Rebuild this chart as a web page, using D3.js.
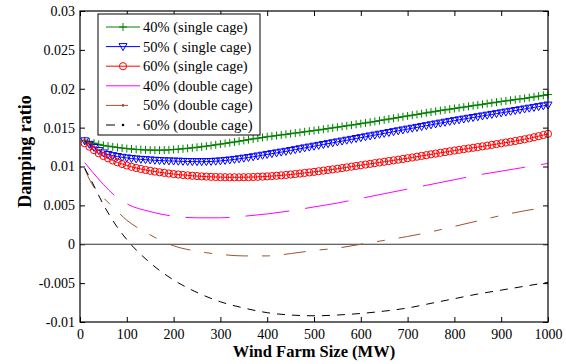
<!DOCTYPE html>
<html>
<head>
<meta charset="utf-8">
<script src="https://cdn.jsdelivr.net/npm/d3@7"></script>
<style>
  body { margin: 0; background: #fff; }
  text { font-family: "Liberation Serif", "Times New Roman", serif; }
</style>
</head>
<body>
<div id="chart"></div>
<script>
// data
const mwSingle = d3.range(10, 1001, 10);   // single cage runs sampled every 10 MW
const mwDouble = [10, 25, 50, 75, 100, 150, 200, 250, 300, 350, 400, 450, 500, 550, 600, 650, 700, 750, 800, 850, 900, 950, 1000];

const single40 = [
  0.01330, 0.01315, 0.01300, 0.01285, 0.01272, 0.01262, 0.01253, 0.01245, 0.01237, 0.01230,
  0.01225, 0.01220, 0.01216, 0.01213, 0.01211, 0.01210, 0.01210, 0.01211, 0.01214, 0.01218,
  0.01223, 0.01228, 0.01234, 0.01240, 0.01247, 0.01254, 0.01262, 0.01270, 0.01279, 0.01288,
  0.01297, 0.01306, 0.01315, 0.01325, 0.01335, 0.01345, 0.01355, 0.01364, 0.01373, 0.01382,
  0.01390, 0.01398, 0.01406, 0.01414, 0.01422, 0.01430, 0.01438, 0.01446, 0.01454, 0.01462,
  0.01470, 0.01479, 0.01488, 0.01497, 0.01506, 0.01515, 0.01524, 0.01533, 0.01542, 0.01551,
  0.01560, 0.01570, 0.01580, 0.01590, 0.01600, 0.01610, 0.01620, 0.01630, 0.01640, 0.01650,
  0.01660, 0.01670, 0.01680, 0.01690, 0.01700, 0.01710, 0.01719, 0.01728, 0.01737, 0.01746,
  0.01755, 0.01764, 0.01773, 0.01782, 0.01791, 0.01800, 0.01809, 0.01818, 0.01827, 0.01836,
  0.01844, 0.01852, 0.01860, 0.01868, 0.01876, 0.01885, 0.01895, 0.01905, 0.01915, 0.01925
];

const single50 = [
  0.01330, 0.01285, 0.01245, 0.01205, 0.01175, 0.01155, 0.01140, 0.01128, 0.01118, 0.01110,
  0.01103, 0.01097, 0.01092, 0.01088, 0.01084, 0.01080, 0.01077, 0.01074, 0.01072, 0.01070,
  0.01068, 0.01066, 0.01064, 0.01063, 0.01062, 0.01062, 0.01063, 0.01065, 0.01068, 0.01072,
  0.01078, 0.01084, 0.01091, 0.01099, 0.01107, 0.01116, 0.01125, 0.01135, 0.01145, 0.01155,
  0.01165, 0.01175, 0.01185, 0.01195, 0.01206, 0.01217, 0.01228, 0.01239, 0.01250, 0.01261,
  0.01272, 0.01283, 0.01294, 0.01305, 0.01316, 0.01327, 0.01338, 0.01349, 0.01360, 0.01371,
  0.01382, 0.01393, 0.01404, 0.01415, 0.01426, 0.01437, 0.01448, 0.01459, 0.01470, 0.01481,
  0.01492, 0.01503, 0.01514, 0.01525, 0.01536, 0.01547, 0.01558, 0.01569, 0.01580, 0.01590,
  0.01600, 0.01610, 0.01620, 0.01630, 0.01640, 0.01650, 0.01660, 0.01670, 0.01680, 0.01690,
  0.01700, 0.01710, 0.01720, 0.01730, 0.01740, 0.01750, 0.01760, 0.01770, 0.01780, 0.01790
];

const single60 = [
  0.01300, 0.01255, 0.01210, 0.01170, 0.01135, 0.01105, 0.01078, 0.01054, 0.01032, 0.01013,
  0.00996, 0.00981, 0.00968, 0.00956, 0.00945, 0.00935, 0.00926, 0.00918, 0.00910, 0.00903,
  0.00897, 0.00891, 0.00886, 0.00881, 0.00877, 0.00873, 0.00870, 0.00867, 0.00865, 0.00863,
  0.00862, 0.00861, 0.00861, 0.00861, 0.00862, 0.00863, 0.00865, 0.00867, 0.00870, 0.00873,
  0.00877, 0.00881, 0.00886, 0.00891, 0.00897, 0.00903, 0.00910, 0.00917, 0.00924, 0.00931,
  0.00939, 0.00947, 0.00955, 0.00963, 0.00971, 0.00980, 0.00989, 0.00998, 0.01007, 0.01016,
  0.01025, 0.01034, 0.01043, 0.01052, 0.01061, 0.01070, 0.01079, 0.01088, 0.01097, 0.01106,
  0.01116, 0.01126, 0.01136, 0.01146, 0.01156, 0.01166, 0.01176, 0.01185, 0.01195, 0.01205,
  0.01214, 0.01223, 0.01232, 0.01241, 0.01250, 0.01259, 0.01268, 0.01278, 0.01288, 0.01298,
  0.01308, 0.01318, 0.01328, 0.01339, 0.01350, 0.01362, 0.01376, 0.01390, 0.01405, 0.01420
];

const double40 = [0.0105, 0.0094, 0.0077, 0.0062, 0.0052, 0.0042, 0.0036, 0.0034, 0.0034, 0.0036, 0.0039, 0.0043,
  0.0048, 0.0053, 0.0059, 0.0065, 0.0071, 0.0077, 0.0083, 0.0089, 0.0094, 0.0099, 0.0104];
const double50 = [0.0097, 0.0078, 0.0060, 0.0045, 0.0031, 0.0012, -0.0002, -0.0009, -0.0013, -0.0015, -0.0015, -0.0012,
  -0.0008, -0.0005, 0.0000, 0.0005, 0.0010, 0.0016, 0.0023, 0.0030, 0.0037, 0.0043, 0.0048];
const double60 = [0.0098, 0.0081, 0.0051, 0.0026, 0.0006, -0.0024, -0.0046, -0.0062, -0.0074, -0.0082, -0.0088, -0.0091,
  -0.0092, -0.0091, -0.0089, -0.0086, -0.0082, -0.0076, -0.0070, -0.0064, -0.0059, -0.0054, -0.0049];

const xTicks = [0, 100, 200, 300, 400, 500, 600, 700, 800, 900, 1000];
const yTicks = [-0.01, -0.005, 0, 0.005, 0.01, 0.015, 0.02, 0.025, 0.03];
const yTickLabels = ["-0.01", "-0.005", "0", "0.005", "0.01", "0.015", "0.02", "0.025", "0.03"];

const width = 566;
const height = 364;
const margin = { top: 11, right: 18, bottom: 42, left: 80 };

const svg = d3.select("#chart")
  .append("svg")
  .attr("width", width)
  .attr("height", height);

const x = d3.scaleLinear().domain([0, 1000]).range([margin.left, width - margin.right]);
const y = d3.scaleLinear().domain([-0.01, 0.03]).range([height - margin.bottom, margin.top]);

// axes, MATLAB style ticks pointing inwards
const fmtY = v => yTickLabels[yTicks.indexOf(v)];
svg.append("g")
  .attr("transform", `translate(${margin.left},0)`)
  .call(d3.axisLeft(y).tickValues(yTicks).tickFormat(fmtY).tickSize(-5).tickPadding(5))
  .call(g => g.select(".domain").remove())
  .selectAll("text").style("font-size", "14px").attr("fill", "#000");
svg.append("g")
  .attr("transform", `translate(${width - margin.right},0)`)
  .call(d3.axisRight(y).tickValues(yTicks).tickFormat("").tickSize(-5))
  .call(g => g.select(".domain").remove());
svg.append("g")
  .attr("transform", `translate(0,${height - margin.bottom})`)
  .call(d3.axisBottom(x).tickValues(xTicks).tickFormat(d3.format("d")).tickSize(-5).tickPadding(7))
  .call(g => g.select(".domain").remove())
  .selectAll("text").style("font-size", "14px").attr("fill", "#000");
svg.append("g")
  .attr("transform", `translate(0,${margin.top})`)
  .call(d3.axisTop(x).tickValues(xTicks).tickFormat("").tickSize(-5))
  .call(g => g.select(".domain").remove());

// zero line
svg.append("line")
  .attr("x1", x(0)).attr("x2", x(1000))
  .attr("y1", y(0)).attr("y2", y(0))
  .attr("stroke", "#333").attr("stroke-width", 1);

const line = d3.line().x(d => x(d[0])).y(d => y(d[1]));
const smooth = d3.line().x(d => x(d[0])).y(d => y(d[1])).curve(d3.curveMonotoneX);

const series = [
  { name: "40% (single cage)", xs: mwSingle, ys: single40, color: "#008000", marker: "plus" },
  { name: "50% ( single cage)", xs: mwSingle, ys: single50, color: "#0000ff", marker: "tri" },
  { name: "60% (single cage)", xs: mwSingle, ys: single60, color: "#ff0000", marker: "circle" },
  { name: "40% (double cage)", xs: mwDouble, ys: double40, color: "#ff00ff", dash: "44,16" },
  { name: "50% (double cage)", xs: mwDouble, ys: double50, color: "#a0522d", dash: "22,14,8,14" },
  { name: "60% (double cage)", xs: mwDouble, ys: double60, color: "#000000", dash: "8,7" }
];

function drawMarker(g, type, cx, cy, color) {
  if (type === "plus") {
    g.append("path")
      .attr("d", `M${cx - 4},${cy}H${cx + 4}M${cx},${cy - 4}V${cy + 4}`)
      .attr("stroke", color).attr("fill", "none").attr("stroke-width", 1);
  } else if (type === "tri") {
    g.append("path")
      .attr("d", `M${cx - 4},${cy - 3}L${cx + 4},${cy - 3}L${cx},${cy + 4}Z`)
      .attr("stroke", color).attr("fill", "none").attr("stroke-width", 1);
  } else if (type === "circle") {
    g.append("circle")
      .attr("cx", cx).attr("cy", cy).attr("r", 3.6)
      .attr("stroke", color).attr("fill", "none").attr("stroke-width", 1);
  }
}

const plot = svg.append("g");
series.forEach(s => {
  const pts = s.xs.map((v, i) => [v, s.ys[i]]);
  plot.append("path")
    .datum(pts)
    .attr("d", s.marker ? line : smooth)
    .attr("fill", "none")
    .attr("stroke", s.color)
    .attr("stroke-width", 1)
    .attr("stroke-dasharray", s.dash || null);
  if (s.marker) {
    const mg = plot.append("g");
    pts.forEach(p => drawMarker(mg, s.marker, x(p[0]), y(p[1]), s.color));
  }
});

// frame
svg.append("rect")
  .attr("x", x(0)).attr("y", y(0.03))
  .attr("width", x(1000) - x(0)).attr("height", y(-0.01) - y(0.03))
  .attr("fill", "none").attr("stroke", "#000").attr("stroke-width", 1.2);

// legend
const legend = svg.append("g");
legend.append("rect")
  .attr("x", 98).attr("y", 14).attr("width", 162).attr("height", 121)
  .attr("fill", "#fff").attr("stroke", "#000").attr("stroke-width", 1);

const legendDash = ["", "", "", "", "22,14", "9,22,3"];
series.forEach((s, i) => {
  const ly = 27 + i * 19.6;
  legend.append("line")
    .attr("x1", 106).attr("x2", 140).attr("y1", ly).attr("y2", ly)
    .attr("stroke", s.color).attr("stroke-width", 1)
    .attr("stroke-dasharray", legendDash[i] || null);
  if (s.marker) drawMarker(legend, s.marker, 123, ly, s.color);
  if (i >= 4) legend.append("circle").attr("cx", 123).attr("cy", ly).attr("r", 1.3).attr("fill", s.color);
  legend.append("text")
    .attr("x", 143).attr("y", ly + 5)
    .text(s.name)
    .style("font-size", "14.5px");
});

// axis titles
svg.append("text")
  .attr("x", (x(0) + x(1000)) / 2).attr("y", 357)
  .attr("text-anchor", "middle")
  .style("font-size", "16.5px").style("font-weight", "bold")
  .text("Wind Farm Size (MW)");

svg.append("text")
  .attr("transform", `translate(31,${(y(0.03) + y(-0.01)) / 2 - 15}) rotate(-90)`)
  .attr("text-anchor", "middle")
  .style("font-size", "18px").style("font-weight", "bold")
  .text("Damping ratio");
</script>
</body>
</html>
